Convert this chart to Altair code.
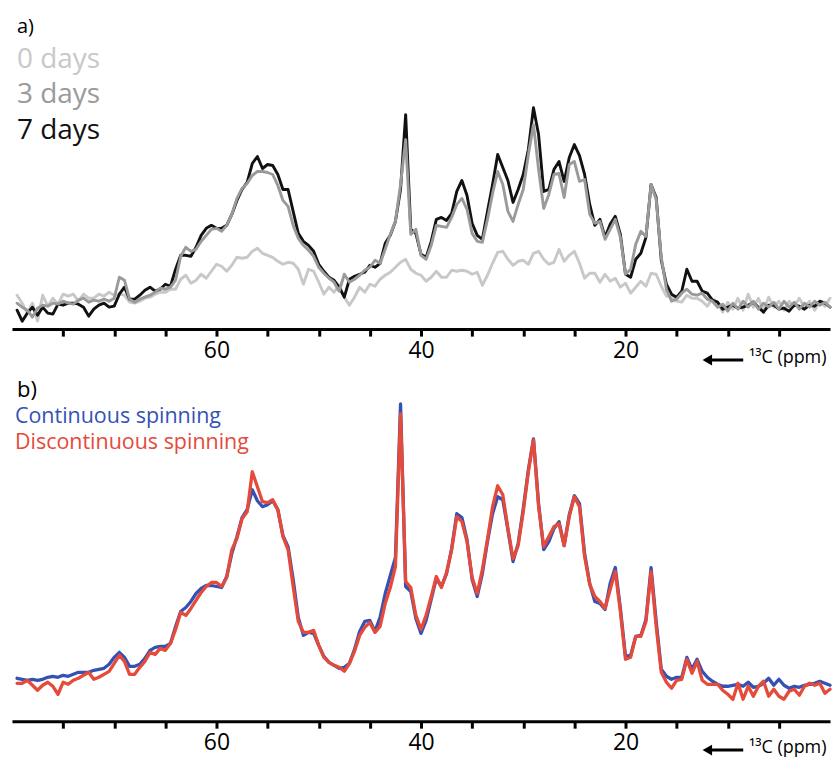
import altair as alt
import pandas as pd

# 13C chemical-shift grid (ppm), 0.5 ppm steps from 79.5 down to 0
PPM = [round(79.5 - 0.5 * i, 1) for i in range(160)]

# Panel a: spectra after 0, 3 and 7 days (arbitrary intensity units)
DAY0 = [
    34, 26, 16, 26, 8, 34, 23, 31, 25, 35,
    33, 35, 28, 35, 31, 31, 35, 33, 37, 34,
    35, 34, 27, 26, 28, 31, 32, 35, 37, 37,
    40, 40, 50, 54, 46, 49, 55, 51, 58, 65,
    63, 58, 64, 72, 71, 72, 78, 81, 76, 74,
    72, 68, 65, 67, 66, 60, 45, 60, 58, 47,
    35, 42, 37, 44, 32, 24, 32, 42, 37, 45,
    43, 50, 54, 57, 62, 67, 70, 60, 56, 54,
    48, 52, 58, 52, 52, 59, 58, 59, 58, 55,
    57, 44, 54, 66, 77, 78, 70, 64, 68, 69,
    65, 76, 78, 70, 65, 67, 80, 68, 74, 78,
    66, 51, 56, 56, 47, 55, 48, 51, 42, 46,
    36, 42, 48, 43, 56, 55, 43, 33, 33, 28,
    27, 34, 31, 31, 28, 23, 30, 27, 17, 27,
    20, 31, 19, 35, 22, 31, 19, 32, 22, 28,
    19, 28, 23, 31, 22, 28, 19, 28, 23, 31,
]
DAY3 = [
    26, 22, 19, 12, 21, 24, 23, 26, 25, 28,
    26, 25, 29, 31, 27, 29, 28, 30, 28, 31,
    52, 49, 30, 27, 30, 32, 34, 37, 41, 40,
    42, 49, 73, 82, 78, 80, 88, 94, 100, 101,
    98, 104, 115, 131, 141, 146, 154, 158, 158, 157,
    155, 144, 129, 123, 104, 91, 84, 79, 73, 62,
    56, 51, 47, 38, 55, 47, 50, 54, 59, 62,
    69, 66, 80, 95, 108, 145, 190, 95, 100, 74,
    70, 84, 104, 103, 102, 112, 125, 131, 120, 96,
    88, 87, 110, 136, 158, 145, 118, 108, 125, 140,
    175, 205, 160, 121, 135, 155, 156, 132, 165, 168,
    148, 150, 115, 106, 108, 90, 100, 110, 92, 55,
    60, 85, 98, 93, 145, 130, 72, 40, 28, 30,
    36, 40, 35, 34, 36, 30, 28, 22, 25, 18,
    26, 20, 28, 22, 28, 20, 26, 22, 27, 20,
    28, 22, 27, 20, 26, 22, 28, 24, 27, 22,
]
DAY7 = [
    19, 8, 16, 22, 14, 22, 16, 15, 25, 24,
    26, 26, 25, 22, 13, 20, 24, 26, 22, 23,
    35, 42, 30, 30, 34, 39, 42, 38, 40, 45,
    43, 60, 74, 74, 73, 82, 94, 101, 104, 101,
    101, 104, 115, 129, 140, 147, 166, 173, 161, 165,
    164, 155, 140, 140, 118, 96, 88, 84, 78, 65,
    58, 52, 49, 42, 32, 50, 53, 55, 57, 64,
    62, 66, 86, 94, 108, 140, 215, 100, 96, 75,
    72, 88, 110, 112, 109, 116, 138, 149, 134, 106,
    94, 90, 118, 145, 175, 162, 149, 127, 140, 155,
    180, 222, 195, 138, 140, 160, 168, 148, 172, 185,
    174, 155, 125, 104, 110, 92, 105, 113, 95, 55,
    52, 70, 76, 92, 145, 132, 69, 45, 35, 32,
    38, 60, 48, 48, 38, 36, 29, 27, 20, 22,
    24, 21, 22, 24, 27, 22, 17, 24, 24, 20,
    21, 18, 24, 23, 20, 24, 23, 28, 26, 22,
]

# Panel b: continuous vs. discontinuous spinning
CONT = [
    43, 42, 41, 42, 41, 42, 44, 45, 44, 46,
    45, 47, 49, 49, 49, 51, 52, 53, 57, 64,
    69, 64, 55, 55, 57, 63, 71, 74, 75, 75,
    78, 95, 110, 114, 120, 128, 133, 136, 136, 135,
    134, 145, 168, 185, 204, 212, 232, 221, 215, 217,
    221, 212, 186, 175, 142, 104, 86, 89, 88, 76,
    65, 59, 56, 53, 54, 58, 72, 90, 100, 101,
    90, 104, 128, 146, 164, 318, 135, 130, 103, 88,
    101, 122, 143, 135, 148, 173, 208, 204, 182, 142,
    125, 148, 180, 208, 225, 222, 192, 160, 178, 213,
    252, 283, 218, 172, 180, 193, 200, 176, 207, 226,
    218, 168, 138, 120, 118, 112, 138, 154, 113, 65,
    66, 85, 86, 102, 154, 100, 52, 45, 42, 44,
    44, 64, 52, 62, 50, 44, 40, 37, 35, 35,
    36, 37, 35, 39, 34, 35, 38, 43, 36, 42,
    36, 33, 35, 34, 36, 37, 38, 40, 38, 36,
]
DISC = [
    38, 38, 41, 36, 31, 36, 39, 35, 27, 39,
    37, 41, 43, 46, 49, 42, 44, 47, 50, 58,
    66, 60, 47, 47, 54, 60, 69, 67, 73, 71,
    78, 92, 109, 106, 113, 121, 129, 135, 139, 139,
    135, 144, 172, 183, 203, 210, 250, 235, 220, 219,
    222, 212, 185, 172, 135, 100, 89, 89, 91, 76,
    64, 59, 56, 54, 50, 58, 70, 86, 94, 99,
    89, 95, 118, 134, 155, 308, 140, 134, 106, 92,
    106, 125, 145, 134, 149, 172, 205, 200, 180, 144,
    128, 152, 182, 215, 236, 227, 193, 163, 176, 210,
    250, 282, 215, 175, 185, 195, 198, 176, 205, 225,
    215, 165, 137, 125, 120, 113, 132, 150, 110, 62,
    64, 85, 85, 100, 150, 95, 49, 39, 33, 41,
    42, 62, 48, 60, 41, 37, 37, 37, 31, 27,
    22, 38, 22, 35, 25, 35, 40, 25, 32, 25,
    22, 30, 32, 26, 35, 38, 36, 38, 28, 32,
]

SERIES_A = ["0 days", "3 days", "7 days"]
COLORS_A = ["#c8c8c8", "#9a9a9a", "#111111"]
SERIES_B = ["Continuous spinning", "Discontinuous spinning"]
COLORS_B = ["#3452b4", "#e54a3a"]
TICKS = list(range(5, 80, 5))
AXIS_TITLE = "\u00b9\u00b3C (ppm)"

WIDTH = 820
FONT = "Open Sans"


def x_axis(title_y):
    return alt.Axis(
        values=TICKS,
        labelExpr="datum.value % 20 === 0 ? datum.label : ''",
        title=AXIS_TITLE,
        titleX=WIDTH - 4,
        titleY=title_y,
        titleAlign="right",
        titleBaseline="alphabetic",
        titleFontSize=18,
        titleFontWeight="normal",
        titleFont=FONT,
        grid=False,
        domainColor="black",
        domainWidth=3,
        tickColor="black",
        tickWidth=3,
        tickSize=7,
        labelFont=FONT,
        labelFontSize=23,
        labelColor="black",
        labelPadding=3,
        labelFlush=False,
        labelOverlap=False,
    )


def spectrum(values, color, top, title_y, width):
    df = pd.DataFrame({"ppm": PPM, "intensity": values})
    return alt.Chart(df).mark_line(
        color=color, strokeWidth=width, strokeJoin="round", strokeCap="round"
    ).encode(
        x=alt.X("ppm:Q", scale=alt.Scale(domain=[0, 80], reverse=True, nice=False),
                axis=x_axis(title_y)),
        y=alt.Y("intensity:Q", scale=alt.Scale(domain=[0, top], nice=False, zero=False),
                axis=None),
    )


def label(text, color, x, y, size):
    return alt.Chart(pd.DataFrame({"t": [text]})).mark_text(
        align="left", baseline="alphabetic", font=FONT, fontSize=size, color=color
    ).encode(x=alt.value(x), y=alt.value(y), text="t:N")


def arrow(y):
    shaft = alt.Chart(pd.DataFrame({"t": [0]})).mark_rule(
        color="black", strokeWidth=3
    ).encode(x=alt.value(700), x2=alt.value(733), y=alt.value(y))
    head = alt.Chart(pd.DataFrame({"t": [0]})).mark_point(
        shape="triangle-left", filled=True, size=120, color="black", opacity=1
    ).encode(x=alt.value(697), y=alt.value(y))
    return [shaft, head]


TOP_A = 324
TOP_B = 342

panel_a = alt.layer(
    spectrum(DAY0, COLORS_A[0], TOP_A, 33, 2.9),
    spectrum(DAY7, COLORS_A[2], TOP_A, 33, 2.9),
    spectrum(DAY3, COLORS_A[1], TOP_A, 33, 2.9),
    label("a)", "black", 5, 27, 20),
    label(SERIES_A[0], COLORS_A[0], 5, 62, 28),
    label(SERIES_A[1], COLORS_A[1], 5, 97, 28),
    label(SERIES_A[2], COLORS_A[2], 5, 133, 28),
    *arrow(355),
).properties(width=WIDTH, height=TOP_A)

panel_b = alt.layer(
    spectrum(CONT, COLORS_B[0], TOP_B, 31, 3.3),
    spectrum(DISC, COLORS_B[1], TOP_B, 31, 3.3),
    label("b)", "black", 5, 17, 22),
    label(SERIES_B[0], COLORS_B[0], 3, 43, 21.5),
    label(SERIES_B[1], COLORS_B[1], 3, 69, 21.5),
    *arrow(371),
).properties(width=WIDTH, height=TOP_B)

chart = alt.vconcat(panel_a, panel_b, spacing=51, bounds="flush").properties(
    padding={"left": 12, "top": 5, "right": 5, "bottom": 2}
).configure(font=FONT, background="white").configure_view(stroke=None)

chart.save("out.html", embed_options={"renderer": "svg", "actions": False})
